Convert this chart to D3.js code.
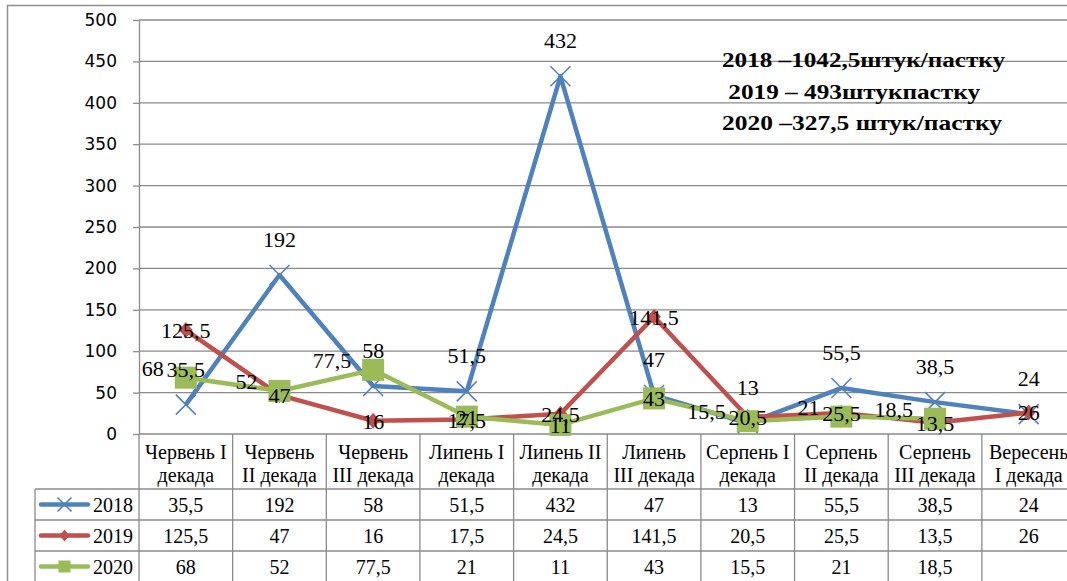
<!DOCTYPE html>
<html>
<head>
<meta charset="utf-8">
<script src="https://cdn.jsdelivr.net/npm/d3@7"></script>
<style>
  body { margin: 0; background: #fff; }
  svg { display: block; }
</style>
</head>
<body>
<svg id="chart" width="1067" height="581"></svg>
<script>
// categories (already split the way the table wraps them)
const categories = [
  ['Червень I', 'декада'], ['Червень', 'II декада'], ['Червень', 'III декада'],
  ['Липень I', 'декада'], ['Липень II', 'декада'], ['Липень', 'III декада'],
  ['Серпень I', 'декада'], ['Серпень', 'II декада'], ['Серпень', 'III декада'],
  ['Вересень', 'I декада']
];
const years = ['2018', '2019', '2020'];
const values2018 = [35.5, 192, 58, 51.5, 432, 47, 13, 55.5, 38.5, 24];
const values2019 = [125.5, 47, 16, 17.5, 24.5, 141.5, 20.5, 25.5, 13.5, 26];
const values2020 = [68, 52, 77.5, 21, 11, 43, 15.5, 21, 18.5];
const yTicks = [0, 50, 100, 150, 200, 250, 300, 350, 400, 450, 500];
const notes = ['2018 –1042,5штук/пастку', ' 2019 – 493штукпастку', '2020 –327,5 штук/пастку'];

const series = [
  { name: years[0], values: values2018, color: '#4F81BD', marker: 'x', label: 'above' },
  { name: years[1], values: values2019, color: '#C0504D', marker: 'diamond', label: 'center' },
  { name: years[2], values: values2020, color: '#9BBB59', marker: 'square', label: 'left' }
];

const svg = d3.select('#chart');
const W = 1067, H = 581;
const plotL = 139, plotR = 1075.5, plotT = 20, plotB = 434;
const rowTop = [489, 520, 551], rowH = 31;
const gridColor = '#8a8a8a';
const serif = '"Liberation Serif", "Times New Roman", serif';
const fmt = v => String(v).replace('.', ',');

const x = d3.scaleBand().domain(d3.range(categories.length)).range([plotL, plotR]);
const y = d3.scaleLinear().domain([0, 500]).range([plotB, plotT]);

// outer chart border
svg.append('rect').attr('x', 7.5).attr('y', 5.5).attr('width', W).attr('height', H)
  .attr('fill', 'none').attr('stroke', '#8e8e8e').attr('stroke-width', 1.5);

// gridlines
svg.append('g').selectAll('line').data(yTicks.filter(d => d > 0)).join('line')
  .attr('x1', plotL).attr('x2', plotR).attr('y1', d => y(d)).attr('y2', d => y(d))
  .attr('stroke', gridColor).attr('stroke-width', 1.3);

// y axis
const yAxis = svg.append('g').attr('transform', `translate(${plotL},0)`)
  .call(d3.axisLeft(y).tickValues(yTicks).tickSize(6).tickSizeOuter(0).tickPadding(16));
yAxis.selectAll('path, line').attr('stroke', gridColor).attr('stroke-width', 1.3);
yAxis.selectAll('text').attr('font-family', '"DejaVu Sans", Verdana, sans-serif')
  .attr('font-size', 17).attr('fill', '#000');

// data table grid
const tbl = svg.append('g').attr('stroke', gridColor).attr('stroke-width', 1.3);
tbl.append('line').attr('x1', plotL).attr('x2', plotR).attr('y1', plotB).attr('y2', plotB);
rowTop.forEach(r => tbl.append('line').attr('x1', 35).attr('x2', plotR).attr('y1', r).attr('y2', r));
tbl.append('line').attr('x1', 35).attr('x2', 35).attr('y1', rowTop[0]).attr('y2', H);
tbl.selectAll('line.col').data(d3.range(categories.length + 1)).join('line')
  .attr('class', 'col')
  .attr('x1', i => plotL + i * x.bandwidth()).attr('x2', i => plotL + i * x.bandwidth())
  .attr('y1', plotB).attr('y2', H);

// header (category labels)
const head = svg.append('g').attr('font-family', serif).attr('font-size', 20)
  .attr('text-anchor', 'middle');
categories.forEach((lines, i) => {
  lines.forEach((ln, k) => {
    head.append('text').attr('x', x(i) + x.bandwidth() / 2).attr('y', 459 + k * 23).text(ln);
  });
});

function drawMarker(g, type, color, mx, my, s) {
  if (type === 'x') {
    g.append('path').attr('d', `M${mx - s},${my - s}L${mx + s},${my + s}M${mx - s},${my + s}L${mx + s},${my - s}`)
      .attr('stroke', color).attr('stroke-width', 1.5).attr('fill', 'none');
  } else if (type === 'diamond') {
    g.append('path').attr('d', `M${mx},${my - s}L${mx + s * 0.85},${my}L${mx},${my + s}L${mx - s * 0.85},${my}Z`)
      .attr('fill', color);
  } else {
    g.append('rect').attr('x', mx - s).attr('y', my - s).attr('width', 2 * s).attr('height', 2 * s)
      .attr('fill', color);
  }
}
const markerSize = { x: 10, diamond: 8, square: 11 };
const legendSize = { x: 7, diamond: 6, square: 6 };

// table rows: legend keys + values
series.forEach((s, r) => {
  const cy = rowTop[r] + rowH / 2;
  const g = svg.append('g');
  g.append('line').attr('x1', 41).attr('x2', 88).attr('y1', cy).attr('y2', cy)
    .attr('stroke', s.color).attr('stroke-width', 4.5).attr('stroke-linecap', 'round');
  drawMarker(g, s.marker, s.color, 64.5, cy, legendSize[s.marker]);
  g.append('text').attr('x', 133).attr('y', cy + 7).attr('text-anchor', 'end')
    .attr('font-family', serif).attr('font-size', 20).text(s.name);
  g.selectAll('text.v').data(s.values).join('text').attr('class', 'v')
    .attr('x', (d, i) => x(i) + x.bandwidth() / 2).attr('y', cy + 7)
    .attr('text-anchor', 'middle').attr('font-family', serif).attr('font-size', 20)
    .text(d => fmt(d));
});

// lines and markers
const cx = i => x(i) + x.bandwidth() / 2;
const line = d3.line().x((d, i) => cx(i)).y(d => y(d));
series.forEach(s => {
  const g = svg.append('g');
  g.append('path').datum(s.values).attr('d', line).attr('fill', 'none')
    .attr('stroke', s.color).attr('stroke-width', 4.5).attr('stroke-linejoin', 'round');
  s.values.forEach((v, i) => drawMarker(g, s.marker, s.color, cx(i), y(v), markerSize[s.marker]));
});

// data labels
const centred2020 = [3, 4, 5];
series.forEach(s => {
  const g = svg.append('g').attr('font-family', serif).attr('font-size', 22);
  s.values.forEach((v, i) => {
    let pos = s.label;
    if (pos === 'left' && centred2020.includes(i)) pos = 'center';
    const t = g.append('text').text(fmt(v));
    if (pos === 'above') {
      t.attr('x', cx(i)).attr('y', y(v) - 28).attr('text-anchor', 'middle');
    } else if (pos === 'center') {
      t.attr('x', cx(i)).attr('y', y(v) + 8).attr('text-anchor', 'middle');
    } else {
      t.attr('x', cx(i) - 22).attr('y', y(v) - 2).attr('text-anchor', 'end');
    }
  });
});

// totals note (the cyrillic in the original is set wide, so stretch each line)
const noteWidths = [283, 258, 280];
svg.append('g').attr('font-family', serif).attr('font-size', 21).attr('font-weight', 'bold')
  .selectAll('text').data(notes).join('text')
  .attr('x', 722).attr('y', (d, i) => 67 + i * 31.5)
  .attr('textLength', (d, i) => noteWidths[i]).attr('lengthAdjust', 'spacingAndGlyphs')
  .style('white-space', 'pre').text(d => d);
</script>
</body>
</html>
